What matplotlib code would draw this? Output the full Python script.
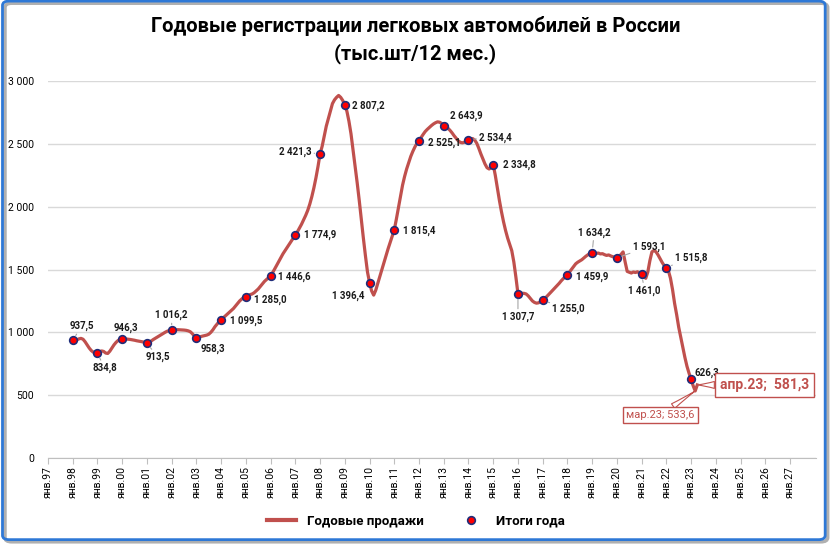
import matplotlib
matplotlib.use("Agg")
import matplotlib.pyplot as plt
from matplotlib.lines import Line2D
from matplotlib.patches import FancyBboxPatch
import numpy as np

plt.rcParams['font.family'] = ['Roboto', 'DejaVu Sans']

# Годовые продажи (скользящие 12 мес.), помесячно с янв.1998 по апр.2023
start_year = 1998
monthly_sales = [
    937.5, 935, 940, 948, 952, 945, 925, 900, 875, 855, 842, 836,          # 1998
    834.8, 845, 852, 848, 835, 832, 850, 875, 900, 920, 935, 943,          # 1999
    946.3, 948, 947, 945, 943, 940, 937, 933, 930, 927, 924, 920,          # 2000
    913.5, 920, 930, 942, 952, 962, 972, 982, 992, 1002, 1010, 1014,       # 2001
    1016.2, 1018, 1020, 1021, 1020, 1019, 1018, 1016, 1012, 1005, 990, 970,  # 2002
    958.3, 962, 966, 970, 974, 978, 985, 1000, 1020, 1045, 1065, 1085,     # 2003
    1099.5, 1115, 1130, 1145, 1160, 1175, 1190, 1210, 1230, 1250, 1265, 1278,  # 2004
    1285.0, 1295, 1300, 1305, 1315, 1330, 1345, 1365, 1385, 1405, 1420, 1435,  # 2005
    1446.6, 1475, 1505, 1535, 1565, 1595, 1625, 1650, 1675, 1700, 1725, 1750,  # 2006
    1774.9, 1800, 1830, 1860, 1895, 1930, 1970, 2020, 2080, 2150, 2230, 2320,  # 2007
    2421.3, 2480, 2560, 2640, 2700, 2760, 2820, 2850, 2870, 2885, 2870, 2845,  # 2008
    2807.2, 2760, 2680, 2580, 2450, 2320, 2190, 2050, 1900, 1750, 1610, 1480,  # 2009
    1396.4, 1330, 1296, 1335, 1390, 1445, 1500, 1555, 1610, 1665, 1715, 1765,  # 2010
    1815.4, 1900, 1990, 2080, 2170, 2240, 2300, 2350, 2400, 2440, 2475, 2505,  # 2011
    2525.1, 2550, 2575, 2598, 2615, 2630, 2645, 2658, 2668, 2675, 2672, 2662,  # 2012
    2643.9, 2638, 2625, 2608, 2588, 2565, 2545, 2525, 2512, 2508, 2512, 2525,  # 2013
    2534.4, 2540, 2542, 2530, 2505, 2465, 2420, 2380, 2340, 2310, 2300, 2308,  # 2014
    2334.8, 2250, 2150, 2050, 1960, 1880, 1810, 1750, 1700, 1650, 1560, 1440,  # 2015
    1307.7, 1310, 1311, 1310, 1305, 1290, 1270, 1250, 1238, 1232, 1235, 1245,  # 2016
    1255.0, 1268, 1285, 1302, 1320, 1338, 1355, 1372, 1390, 1410, 1428, 1445,  # 2017
    1459.9, 1480, 1502, 1525, 1545, 1558, 1568, 1578, 1592, 1606, 1618, 1628,  # 2018
    1634.2, 1632, 1628, 1631, 1624, 1626, 1618, 1612, 1616, 1608, 1602, 1598,  # 2019
    1593.1, 1605, 1620, 1640, 1560, 1485, 1478, 1472, 1480, 1476, 1482, 1470,  # 2020
    1461.0, 1445, 1430, 1480, 1570, 1640, 1652, 1640, 1615, 1585, 1555, 1530,  # 2021
    1515.8, 1490, 1430, 1340, 1230, 1140, 1040, 960, 880, 800, 730, 675,   # 2022
    626.3, 575, 533.6, 581.3,                                              # 2023
]

# Итоги года (значение на январь)
itogi_years = list(range(1998, 2024))
itogi_values = [937.5, 834.8, 946.3, 913.5, 1016.2, 958.3, 1099.5, 1285.0, 1446.6,
                1774.9, 2421.3, 2807.2, 1396.4, 1815.4, 2525.1, 2643.9, 2534.4,
                2334.8, 1307.7, 1255.0, 1459.9, 1634.2, 1593.1, 1461.0, 1515.8, 626.3]

# смещения подписей (пиксели) и выноски
label_dx = [9, 7, 4, 11, 0, 17, 25, 24, 24, 25, -25, 24, -21, 25, 25, 23, 27, 26, 0, 26, 25, 2, 32, 3, 25, 16]
label_dy = [14, -15, 11, -14, 15, -11, -1, -3, -1, 0, 2, -1, -13, -1, -2, 10, 2, 0, -23, -9, -2, 20, 11, -16, 10, 6]
leader = [1, 1, 0, 1, 1, 0, 0, 0, 0, 0, 1, 0, 0, 0, 0, 0, 1, 0, 1, 1, 0, 1, 1, 1, 1, 0]

tick_years = list(range(1997, 2028))
tick_labels = ['янв.%02d' % (y % 100) for y in tick_years]

def fmt(v):
    return ('{:,.1f}'.format(v)).replace(',', ' ').replace('.', ',')

red = '#c0504d'
navy = '#1f2d7a'

fig = plt.figure(figsize=(8.31, 5.44), dpi=100)
ax = fig.add_axes([48 / 831, 1 - 458 / 544, (816 - 48) / 831, (458 - 81) / 544])

t = start_year + np.arange(len(monthly_sales)) / 12.0
ax.plot(t, monthly_sales, color=red, lw=2.3, zorder=3)
ax.plot(itogi_years, itogi_values, 'o', ms=5.5, mfc='red', mec=navy, mew=1.2, zorder=4)

for i, (x, v) in enumerate(zip(itogi_years, itogi_values)):
    ap = None
    if leader[i]:
        ap = dict(arrowstyle='-', color='#a6a6a6', lw=0.8, shrinkA=0, shrinkB=4)
    ax.annotate(fmt(v), (x, v), xytext=(label_dx[i], label_dy[i]), textcoords='offset pixels',
                ha='center', va='center', fontsize=7, fontweight='bold', color='#1a1a1a',
                arrowprops=ap, zorder=5)

# последние точки
ax.annotate('апр.23;  581,3', (2023 + 3 / 12, 581.3), xytext=(67, 0), textcoords='offset pixels',
            ha='center', va='center', fontsize=10, fontweight='bold', color=red,
            bbox=dict(boxstyle='square,pad=0.35', fc='white', ec=red, lw=1),
            arrowprops=dict(arrowstyle='wedge,tail_width=0.5,shrink_factor=0.4', fc='white', ec=red,
                            lw=0.8, shrinkA=0, shrinkB=0), zorder=6)
ax.annotate('мар.23; 533,6', (2023 + 2 / 12, 533.6), xytext=(-35, -24), textcoords='offset pixels',
            ha='center', va='center', fontsize=8, color=red,
            bbox=dict(boxstyle='square,pad=0.3', fc='white', ec=red, lw=1),
            arrowprops=dict(arrowstyle='wedge,tail_width=0.5,shrink_factor=0.4', fc='white', ec=red,
                            lw=0.8, shrinkA=0, shrinkB=0), zorder=6)

ax.set_xlim(1997, 2028.05)
ax.set_ylim(0, 3000)
ax.set_yticks(range(0, 3001, 500))
ax.set_yticklabels([fmt(v)[:-2] for v in range(0, 3001, 500)])
ax.set_xticks(tick_years)
ax.set_xticklabels(tick_labels, rotation=90)
ax.tick_params(axis='y', length=0, labelsize=7.5, pad=10)
ax.tick_params(axis='x', length=4, color='#bfbfbf', labelsize=7.5, pad=2)
ax.grid(axis='y', color='#d9d9d9', lw=1)
ax.set_axisbelow(True)
for s in ['left', 'right', 'top']:
    ax.spines[s].set_visible(False)
ax.spines['bottom'].set_color('#bfbfbf')

fig.text(0.5, 1 - 40 / 544, 'Годовые регистрации легковых автомобилей в России\n(тыс.шт/12 мес.)',
         ha='center', va='center', fontsize=14.5, fontweight='bold', linespacing=1.4)

handles = [Line2D([], [], color=red, lw=3),
           Line2D([], [], ls='none', marker='o', ms=5.5, mfc='red', mec=navy, mew=1.2)]
fig.legend(handles, ['Годовые продажи', 'Итоги года'], loc='center',
           bbox_to_anchor=(416 / 831, 1 - 521 / 544), ncol=2, frameon=False,
           prop=dict(weight='bold', size=9.5), handlelength=2.2, columnspacing=2.5)

# рамка
fig.patches.append(FancyBboxPatch((0.006, 0.004), 0.99, 0.99, boxstyle='round,pad=0,rounding_size=0.008',
                                  transform=fig.transFigure, fc='none', ec='#b0b0b0', lw=2.5, zorder=0))
fig.patches.append(FancyBboxPatch((0.003, 0.008), 0.99, 0.99, boxstyle='round,pad=0,rounding_size=0.008',
                                  transform=fig.transFigure, fc='none', ec='#2e78d6', lw=2, zorder=1))

fig.savefig('out.png', dpi=100)
